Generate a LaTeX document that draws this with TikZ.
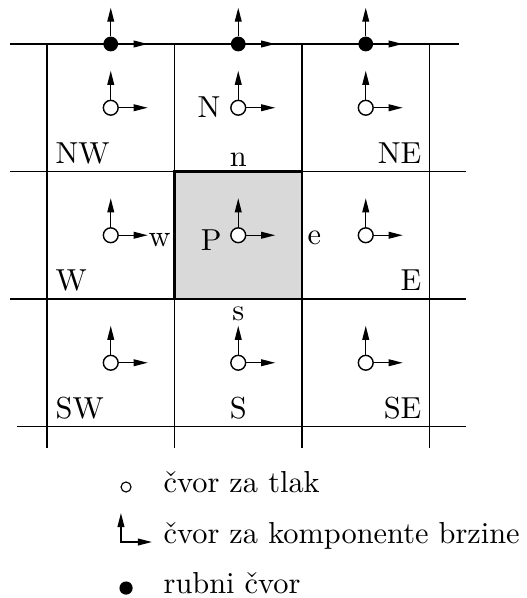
\documentclass[tikz,border=0pt]{standalone}
\usetikzlibrary{arrows.meta}

\begin{document}
\begin{tikzpicture}[x=3.1875cm,y=3.1875cm,
    lbl/.style={inner sep=0pt,scale=2.16},
    grid/.style={line width=1pt},
    vel/.style={line width=1pt,-{Triangle[length=10pt,width=4.8pt]}},
    pnode/.style={circle,draw,line width=1pt,fill=white,inner sep=0pt,minimum size=0.37cm},
    bnode/.style={circle,fill=black,inner sep=0pt,minimum size=0.37cm}]
  \useasboundingbox (-0.3686,-1.3451) rectangle (3.7647,3.3451);
  % P cell
  \fill[black!15] (1,1) rectangle (2,2);
  \draw[grid] (-0.29,3) -- (3.231,3);
  \foreach \y in {1,2}
    \draw[grid] (-0.29,\y) -- (3.286,\y);
  \draw[grid] (-0.235,0) -- (3.286,0);
  \foreach \x in {0,...,3}
    \draw[grid] (\x,3) -- (\x,-0.169);
  \draw[line width=1.9pt] (1,1) rectangle (2,2);
  % pressure nodes with velocity arrows
  \foreach \i in {0,1,2}
    \foreach \j in {0,1,2} {
      \node[pnode] (p\i\j) at (\i+0.5,\j+0.5) {};
      \path (p\i\j) ++(0,0.29) coordinate (u\i\j) ++(0.29,-0.29) coordinate (r\i\j);
      \draw[vel] (p\i\j) -- (u\i\j);
      \draw[vel] (p\i\j) -- (r\i\j);
    }
  % boundary nodes
  \foreach \i in {0,1,2} {
    \node[bnode] (b\i) at (\i+0.5,3) {};
    \path (b\i) ++(0,0.285) coordinate (bu\i) ++(0.29,-0.285) coordinate (br\i);
    \draw[vel] (b\i) -- (bu\i);
    \draw[vel] (b\i) -- (br\i);
  }
  % cell names
  \node[lbl,anchor=base west] (NW) at (0.063,2.059) {NW};
  \node[lbl,anchor=base east] (N) at (1.365,2.42) {N};
  \node[lbl,anchor=base east] (NE) at (2.941,2.059) {NE};
  \node[lbl,anchor=base west] (W) at (0.063,1.063) {W};
  \node[lbl,anchor=base east] (P) at (1.373,1.384) {P};
  \node[lbl,anchor=base east] (E) at (2.941,1.063) {E};
  \node[lbl,anchor=base west] (SW) at (0.063,0.059) {SW};
  \node[lbl,anchor=base] (S) at (1.5,0.059) {S};
  \node[lbl,anchor=base east] (SE) at (2.941,0.059) {SE};
  % faces
  \node[lbl,anchor=base] (n) at (1.5,2.043) {n};
  \node[lbl,anchor=base] (s) at (1.5,0.835) {s};
  \node[lbl,anchor=base west] (w) at (0.792,1.408) {w};
  \node[lbl,anchor=base west] (e) at (2.039,1.424) {e};
  % legend
  \node[circle,draw,line width=0.8pt,inner sep=0pt,minimum size=0.25cm] (lp) at (0.62,-0.4745) {};
  \node[lbl,anchor=base west] (tp) at (0.91,-0.514) {čvor za tlak};
  \coordinate (lv) at (0.58,-0.906);
  \coordinate (lvu) at (0.58,-0.678);
  \coordinate (lvr) at (0.8235,-0.906);
  \draw[line width=1pt,{Triangle[length=10pt,width=4.8pt]}-{Triangle[length=10pt,width=4.8pt]}] (lvu) -- (lv) -- (lvr);
  \node[lbl,anchor=base west] (tv) at (0.91,-0.914) {čvor za komponente brzine};
  \node[bnode,minimum size=0.33cm] (lb) at (0.62,-1.267) {};
  \node[lbl,anchor=base west] (tb) at (0.91,-1.306) {rubni čvor};
\end{tikzpicture}
\end{document}
